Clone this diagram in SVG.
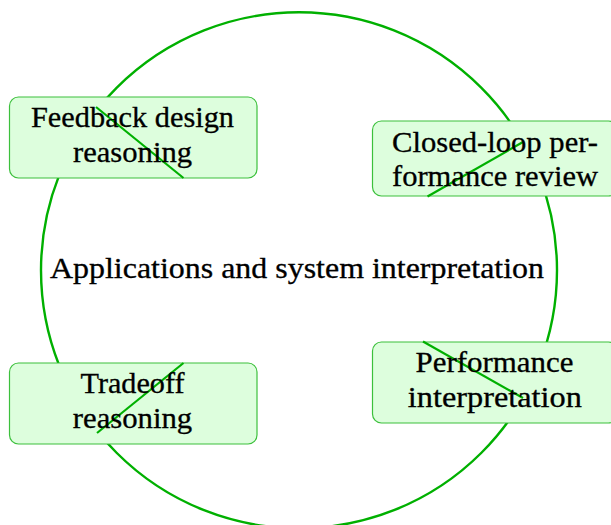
<svg xmlns="http://www.w3.org/2000/svg" width="611" height="525" viewBox="0 0 611 525">
  <style>
    .ring { fill: none; stroke: #00b000; stroke-width: 2.4; }
    .box { fill: #ddfedd; stroke: #3cc03c; stroke-width: 1.2; }
    .edge { stroke: #00b000; stroke-width: 2.2; fill: none; }
    .lbl { font-family: 'Liberation Serif', 'Times New Roman', Times, serif; font-size: 28.5px; fill: #000000; stroke: #000000; stroke-width: 0.3; text-anchor: middle; }
  </style>
  <rect width="611" height="525" fill="#ffffff"/>

  <!-- central ring with its label -->
  <g id="hub">
    <circle class="ring" cx="299" cy="270.3" r="258"/>
    <text class="lbl" x="297" y="277.5" textLength="494" lengthAdjust="spacingAndGlyphs">Applications and system interpretation</text>
  </g>

  <!-- boxes placed on the ring -->
  <g id="feedback">
    <rect class="box" x="9.5" y="97" width="247.5" height="81" rx="9"/>
  </g>
  <g id="closed-loop">
    <rect class="box" x="372.5" y="121" width="245" height="75" rx="9"/>
  </g>
  <g id="tradeoff">
    <rect class="box" x="9.5" y="363" width="247.5" height="81" rx="9"/>
  </g>
  <g id="performance">
    <rect class="box" x="372.5" y="342" width="245" height="81" rx="9"/>
  </g>

  <!-- edge strokes over the boxes -->
  <g id="connectors">
    <line class="edge" x1="96" y1="107" x2="183.5" y2="178"/>
    <line class="edge" x1="427.5" y1="196.5" x2="523" y2="142"/>
    <line class="edge" x1="97" y1="433" x2="183.5" y2="363"/>
    <line class="edge" x1="423" y1="341.5" x2="523" y2="398"/>
  </g>

  <!-- box labels -->
  <g id="feedback-label">
    <text class="lbl" x="132.5" y="127" textLength="203" lengthAdjust="spacingAndGlyphs">Feedback design</text>
    <text class="lbl" x="132.5" y="162" textLength="119" lengthAdjust="spacingAndGlyphs">reasoning</text>
  </g>
  <g id="closed-loop-label">
    <text class="lbl" x="495" y="152" textLength="206" lengthAdjust="spacingAndGlyphs">Closed-loop per-</text>
    <text class="lbl" x="495" y="186" textLength="206" lengthAdjust="spacingAndGlyphs">formance review</text>
  </g>
  <g id="tradeoff-label">
    <text class="lbl" x="132.5" y="393" textLength="104" lengthAdjust="spacingAndGlyphs">Tradeoff</text>
    <text class="lbl" x="132.5" y="427.5" textLength="119.5" lengthAdjust="spacingAndGlyphs">reasoning</text>
  </g>
  <g id="performance-label">
    <text class="lbl" x="494.5" y="372" textLength="158" lengthAdjust="spacingAndGlyphs">Performance</text>
    <text class="lbl" x="494.8" y="407" textLength="174" lengthAdjust="spacingAndGlyphs">interpretation</text>
  </g>
</svg>
